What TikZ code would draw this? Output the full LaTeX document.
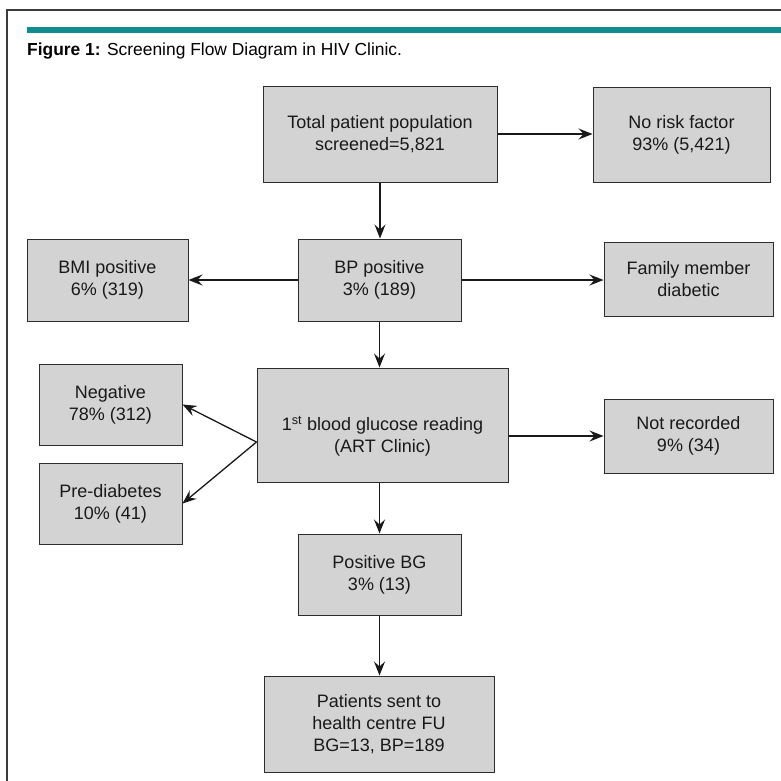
\documentclass[tikz,border=0pt]{standalone}
\usepackage{fontspec}
\setmainfont{Liberation Sans}
\usetikzlibrary{arrows.meta}
\definecolor{teal1}{RGB}{16,140,142}
\definecolor{boxfill}{RGB}{211,211,211}
\definecolor{boxline}{RGB}{45,45,45}
\definecolor{framec}{RGB}{60,60,60}
\tikzset{
  box/.style={draw=boxline, line width=1pt, fill=boxfill, align=center, inner sep=0pt,
    font=\fontsize{18}{22}\selectfont, text=black!90},
  txt/.style={align=center, inner sep=0pt, font=\fontsize{18}{22}\selectfont, text=black!90},
  conn/.style={line width=1.3pt, draw=black!90, -{Stealth[length=14pt,width=11pt,inset=5pt]}}
}
\begin{document}
\begin{tikzpicture}[x=1pt,y=-1pt]
\useasboundingbox (0,0) rectangle (781,780);
\fill[white] (0,0) rectangle (781,780);
\begin{scope}
\clip (0,0) rectangle (781,780);
\draw[framec, line width=1.2pt] (7,10) rectangle (800,800);
\fill[teal1] (27,27) rectangle (790,32.5);
\end{scope}
\node[anchor=base west, inner sep=0pt, font=\fontsize{17.4}{21}\selectfont] (title) at (27,55)
  {\textbf{Figure 1:} Screening Flow Diagram in HIV Clinic.};

\node[box, minimum width=234pt, minimum height=96pt] (total) at (380,134) {Total patient population\\screened=5,821};
\node[box, minimum width=177pt, minimum height=95pt] (norisk) at (681.5,134.5) {No risk factor\\93\% (5,421)};
\node[box, minimum width=161pt, minimum height=82pt] (bmi) at (107.5,280) {BMI positive\\6\% (319)};
\node[box, minimum width=163pt, minimum height=82pt] (bp) at (379.5,280) {BP positive\\3\% (189)};
\node[box, minimum width=169pt, minimum height=74pt] (family) at (688.5,279) {Family member\\diabetic};
\node[box, minimum width=143pt, minimum height=81pt] (neg) at (110.5,404.5) {Negative\\78\% (312)};
\node[box, minimum width=143pt, minimum height=81pt] (pre) at (110.5,503.5) {Pre-diabetes\\10\% (41)};
\node[box, minimum width=251pt, minimum height=114pt] (gl) at (382.5,425) {};
\node[txt] (gltext) at (382.5,436) {1\textsuperscript{st} blood glucose reading\\(ART Clinic)};
\node[box, minimum width=169pt, minimum height=74pt] (notrec) at (688.5,436) {Not recorded\\9\% (34)};
\node[box, minimum width=163pt, minimum height=81pt] (posbg) at (379.5,574.5) {Positive BG\\3\% (13)};
\node[box, minimum width=230pt, minimum height=96pt] (sent) at (379,724) {Patients sent to\\health centre FU\\BG=13, BP=189};

\coordinate (split) at (gl.west |- 0,442);

\draw[conn] (total.south) -- (bp.north -| total.south);
\draw[conn] (total.east) -- (norisk.west |- total.east);
\draw[conn] (bp.west) -- (bmi.east |- bp.west);
\draw[conn] (bp.east) -- (family.west |- bp.east);
\draw[conn] (bp.south) -- (gl.north -| bp.south);
\draw[conn] (gl.east |- notrec.west) -- (notrec.west);
\draw[conn] (split) -- (neg.east);
\draw[conn] (split) -- (pre.east);
\draw[conn] (gl.south -| posbg.north) -- (posbg.north);
\draw[conn] (posbg.south) -- (sent.north -| posbg.south);
\end{tikzpicture}
\end{document}
